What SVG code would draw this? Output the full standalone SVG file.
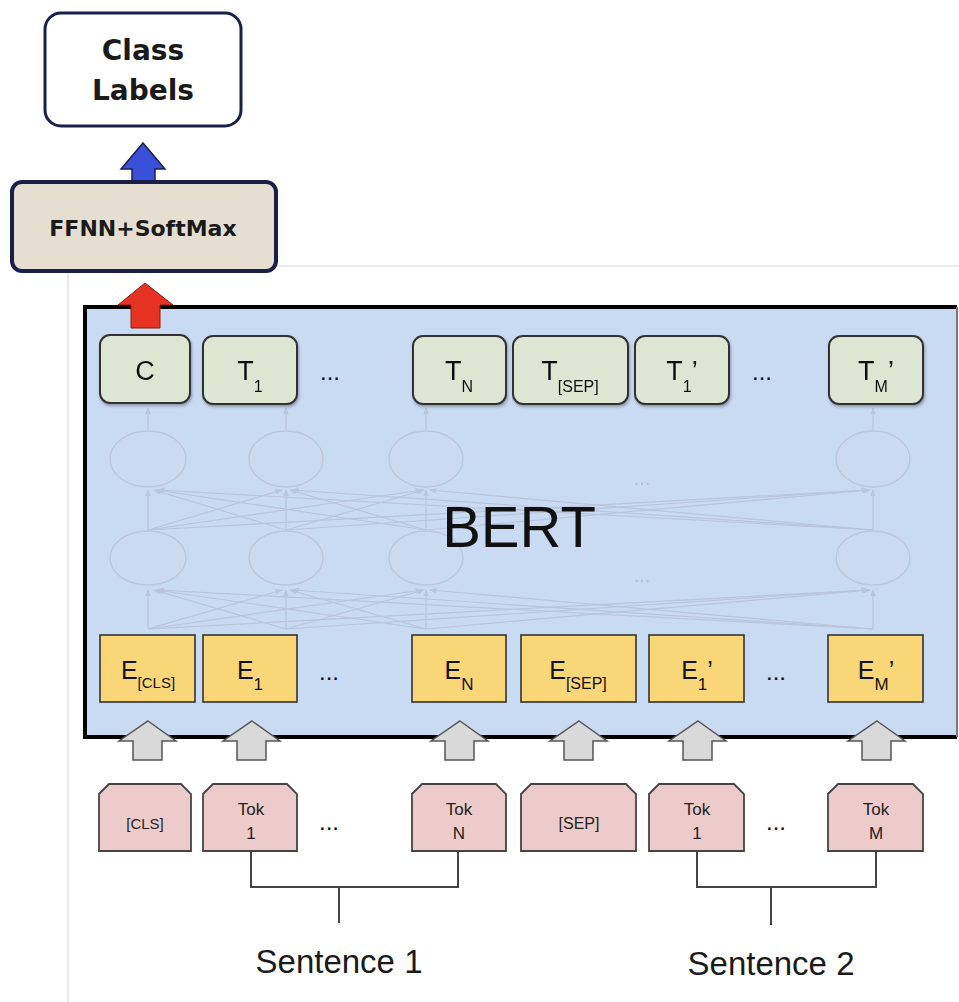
<svg xmlns="http://www.w3.org/2000/svg" width="959" height="1002" viewBox="0 0 959 1002">
<style>
  text { font-family: "Liberation Sans", Arial, sans-serif; fill: #111; }
  .hdr { font-family: "DejaVu Sans", "Liberation Sans", sans-serif; font-weight: bold; font-size: 28px; text-anchor: middle; fill: #1a1a1a; }
  .tbox { fill: #dce6d3; stroke: #333; stroke-width: 2; }
  .ebox { fill: #f9d778; stroke: #333; stroke-width: 1.6; }
  .tok { fill: #eecbcb; stroke: #444; stroke-width: 1.8; }
  .tt { font-size: 27px; text-anchor: middle; }
  .et { font-size: 25px; text-anchor: middle; }
  .kt { font-size: 17px; text-anchor: middle; fill: #222; }
  .dots { font-size: 24px; text-anchor: middle; }
  .garrow { fill: #d9d9d9; stroke: #555; stroke-width: 1.5; }
  .nn { stroke: #b9c5da; stroke-width: 1.2; fill: none; }
  .nnode { fill: #cbdaf1; stroke: #bcc7db; stroke-width: 1.4; }
  .brk { stroke: #444; stroke-width: 2; fill: none; }
  .sent { font-size: 33px; text-anchor: middle; fill: #1a1a1a; }
</style>
<defs>
  <filter id="sh" x="-10%" y="-10%" width="130%" height="140%">
    <feDropShadow dx="1" dy="2" stdDeviation="1.5" flood-color="#000" flood-opacity="0.3"/>
  </filter>
  <filter id="soft" x="-5%" y="-5%" width="110%" height="110%">
    <feGaussianBlur stdDeviation="0.6"/>
  </filter>
  <marker id="nah" viewBox="0 0 10 10" refX="9" refY="5" markerWidth="6" markerHeight="6" orient="auto-start-reverse">
    <path d="M0,1 L10,5 L0,9 z" fill="#b9c5da"/>
  </marker>
</defs>

<!-- page guide lines -->
<line x1="277" y1="266" x2="959" y2="266" stroke="#e2e2e2" stroke-width="1.5"/>
<line x1="68" y1="272" x2="68" y2="1002" stroke="#e2e2e2" stroke-width="1.5"/>

<!-- BERT container -->
<g id="bert">
  <rect x="85" y="307" width="872" height="430" fill="#c9daf3"/>
  <path d="M957,307 L85,307 L85,737 L957,737" fill="none" stroke="#000" stroke-width="4"/>
  <line x1="957" y1="307" x2="957" y2="737" stroke="#777" stroke-width="2"/>
</g>

<!-- faint neural net -->
<g id="network" filter="url(#soft)">
  <g class="nn" marker-end="url(#nah)">
    <line x1="148" y1="629" x2="148" y2="590"/>
    <line x1="148" y1="629" x2="282" y2="590"/>
    <line x1="148" y1="629" x2="422" y2="590"/>
    <line x1="148" y1="629" x2="868" y2="590"/>
    <line x1="286" y1="629" x2="154" y2="590"/>
    <line x1="286" y1="629" x2="286" y2="590"/>
    <line x1="286" y1="629" x2="424" y2="590"/>
    <line x1="286" y1="629" x2="868" y2="590"/>
    <line x1="426" y1="629" x2="156" y2="590"/>
    <line x1="426" y1="629" x2="290" y2="590"/>
    <line x1="426" y1="629" x2="426" y2="590"/>
    <line x1="426" y1="629" x2="870" y2="590"/>
    <line x1="873" y1="629" x2="158" y2="590"/>
    <line x1="873" y1="629" x2="292" y2="590"/>
    <line x1="873" y1="629" x2="430" y2="590"/>
    <line x1="873" y1="629" x2="873" y2="590"/>

    <line x1="148" y1="530" x2="148" y2="490"/>
    <line x1="148" y1="530" x2="282" y2="490"/>
    <line x1="148" y1="530" x2="422" y2="490"/>
    <line x1="148" y1="530" x2="868" y2="490"/>
    <line x1="286" y1="530" x2="154" y2="490"/>
    <line x1="286" y1="530" x2="286" y2="490"/>
    <line x1="286" y1="530" x2="424" y2="490"/>
    <line x1="286" y1="530" x2="868" y2="490"/>
    <line x1="426" y1="530" x2="156" y2="490"/>
    <line x1="426" y1="530" x2="290" y2="490"/>
    <line x1="426" y1="530" x2="426" y2="490"/>
    <line x1="426" y1="530" x2="870" y2="490"/>
    <line x1="873" y1="530" x2="158" y2="490"/>
    <line x1="873" y1="530" x2="292" y2="490"/>
    <line x1="873" y1="530" x2="430" y2="490"/>
    <line x1="873" y1="530" x2="873" y2="490"/>

    <line x1="148" y1="431" x2="148" y2="408"/>
    <line x1="286" y1="431" x2="286" y2="408"/>
    <line x1="426" y1="431" x2="426" y2="408"/>
    <line x1="873" y1="431" x2="873" y2="408"/>
  </g>
  <ellipse class="nnode" cx="148" cy="459" rx="38" ry="28"/>
  <ellipse class="nnode" cx="286" cy="459" rx="37" ry="28"/>
  <ellipse class="nnode" cx="426" cy="459" rx="37" ry="28"/>
  <ellipse class="nnode" cx="873" cy="459" rx="37" ry="28"/>
  <ellipse class="nnode" cx="148" cy="558" rx="38" ry="27"/>
  <ellipse class="nnode" cx="286" cy="558" rx="37" ry="27"/>
  <ellipse class="nnode" cx="426" cy="558" rx="37" ry="27"/>
  <ellipse class="nnode" cx="873" cy="558" rx="37" ry="27"/>
  <text x="642" y="485" font-size="20" text-anchor="middle" style="fill:#b3bfd4">...</text>
  <text x="642" y="582" font-size="20" text-anchor="middle" style="fill:#b3bfd4">...</text>
</g>

<text id="bert-label" x="519" y="547" font-size="58" text-anchor="middle">BERT</text>

<!-- top output row -->
<g id="out-C" filter="url(#sh)"><rect class="tbox" x="100" y="335" width="90" height="68" rx="10"/><text class="tt" x="145" y="380">C</text></g>
<g id="out-T1" filter="url(#sh)"><rect class="tbox" x="203" y="336" width="94" height="68" rx="10"/><text class="tt" x="250" y="380">T<tspan font-size="16" dy="12">1</tspan></text></g>
<text class="dots" x="330" y="380">...</text>
<g id="out-TN" filter="url(#sh)"><rect class="tbox" x="413" y="336" width="93" height="68" rx="10"/><text class="tt" x="459" y="380">T<tspan font-size="16" dy="12">N</tspan></text></g>
<g id="out-TSEP" filter="url(#sh)"><rect class="tbox" x="513" y="336" width="115" height="68" rx="10"/><text class="tt" x="570" y="380">T<tspan font-size="16" dy="12">[SEP]</tspan></text></g>
<g id="out-T1p" filter="url(#sh)"><rect class="tbox" x="635" y="336" width="94" height="68" rx="10"/><text class="tt" x="682" y="380">T<tspan font-size="16" dy="12">1</tspan><tspan dy="-12">’</tspan></text></g>
<text class="dots" x="762" y="380">...</text>
<g id="out-TMp" filter="url(#sh)"><rect class="tbox" x="829" y="336" width="94" height="68" rx="10"/><text class="tt" x="876" y="380">T<tspan font-size="16" dy="12">M</tspan><tspan dy="-12">’</tspan></text></g>

<!-- embedding row -->
<g id="emb-CLS"><rect class="ebox" x="100" y="635" width="95" height="67"/><text class="et" x="148" y="679">E<tspan font-size="15" dy="9">[CLS]</tspan></text></g>
<g id="emb-E1"><rect class="ebox" x="203" y="635" width="94" height="67"/><text class="et" x="250" y="679">E<tspan font-size="17" dy="11">1</tspan></text></g>
<text class="dots" x="329" y="680">...</text>
<g id="emb-EN"><rect class="ebox" x="412" y="635" width="94" height="67"/><text class="et" x="459" y="679">E<tspan font-size="17" dy="11">N</tspan></text></g>
<g id="emb-SEP"><rect class="ebox" x="521" y="635" width="115" height="67"/><text class="et" x="578" y="679">E<tspan font-size="16" dy="10">[SEP]</tspan></text></g>
<g id="emb-E1p"><rect class="ebox" x="649" y="635" width="95" height="67"/><text class="et" x="697" y="679">E<tspan font-size="17" dy="11">1</tspan><tspan dy="-11">’</tspan></text></g>
<text class="dots" x="776" y="680">...</text>
<g id="emb-EMp"><rect class="ebox" x="828" y="635" width="95" height="67"/><text class="et" x="876" y="679">E<tspan font-size="17" dy="11">M</tspan><tspan dy="-11">’</tspan></text></g>

<!-- connectors -->
<g id="connectors">
  <!-- blue arrow -->
  <polygon points="143,143 165,169 155,169 155,184 132,184 132,169 121,169" fill="#3a50d9" stroke="#1a1f4a" stroke-width="1.5"/>
  <!-- red arrow -->
  <polygon points="145,283 173,305 160,305 160,328 131,328 131,305 118,305" fill="#e63323" stroke="#8a1a10" stroke-width="1"/>
  <!-- gray input arrows -->
  <polygon class="garrow" points="148,721 176,741 162,741 162,760 133,760 133,741 119,741"/>
  <polygon class="garrow" points="252,721 280,741 266,741 266,760 237,760 237,741 223,741"/>
  <polygon class="garrow" points="460,721 488,741 474,741 474,760 445,760 445,741 431,741"/>
  <polygon class="garrow" points="579,721 607,741 593,741 593,760 564,760 564,741 550,741"/>
  <polygon class="garrow" points="698,721 726,741 712,741 712,760 683,760 683,741 669,741"/>
  <polygon class="garrow" points="877,721 905,741 891,741 891,760 862,760 862,741 848,741"/>
  <!-- sentence brackets -->
  <path class="brk" d="M251,851 L251,887 L458,887 L458,851 M339,887 L339,923"/>
  <path class="brk" d="M697,851 L697,887 L876,887 L876,851 M771,887 L771,925"/>
</g>

<!-- header nodes -->
<g id="class-labels">
  <rect x="45" y="13" width="196" height="113" rx="16" fill="#fff" stroke="#1a1f4a" stroke-width="3"/>
  <text class="hdr" x="143" y="60">Class</text>
  <text class="hdr" x="143" y="100">Labels</text>
</g>
<g id="ffnn">
  <rect x="12" y="182" width="264" height="89" rx="10" fill="#e6dfd1" stroke="#1a1f4a" stroke-width="4"/>
  <text class="hdr" x="143" y="236" style="font-size:22px">FFNN+SoftMax</text>
</g>

<!-- token row -->
<g id="tok-CLS"><path class="tok" d="M99,794 L109,784 L181,784 L191,794 L191,851 L99,851 Z"/><text class="kt" x="145" y="829" style="font-size:15px">[CLS]</text></g>
<g id="tok-1"><path class="tok" d="M203,794 L213,784 L287,784 L297,794 L297,851 L203,851 Z"/><text class="kt" x="251" y="815">Tok</text><text class="kt" x="251" y="839">1</text></g>
<text class="dots" x="329" y="830">...</text>
<g id="tok-N"><path class="tok" d="M412,794 L422,784 L496,784 L506,794 L506,851 L412,851 Z"/><text class="kt" x="459" y="815">Tok</text><text class="kt" x="459" y="839">N</text></g>
<g id="tok-SEP"><path class="tok" d="M521,794 L531,784 L626,784 L636,794 L636,851 L521,851 Z"/><text class="kt" x="579" y="829" style="font-size:16px">[SEP]</text></g>
<g id="tok-1p"><path class="tok" d="M649,794 L659,784 L734,784 L744,794 L744,851 L649,851 Z"/><text class="kt" x="697" y="815">Tok</text><text class="kt" x="697" y="839">1</text></g>
<text class="dots" x="776" y="830">...</text>
<g id="tok-M"><path class="tok" d="M828,794 L838,784 L913,784 L923,794 L923,851 L828,851 Z"/><text class="kt" x="876" y="815">Tok</text><text class="kt" x="876" y="839">M</text></g>

<g id="sentence1"><text class="sent" x="339" y="973">Sentence 1</text></g>
<g id="sentence2"><text class="sent" x="771" y="975">Sentence 2</text></g>
</svg>
